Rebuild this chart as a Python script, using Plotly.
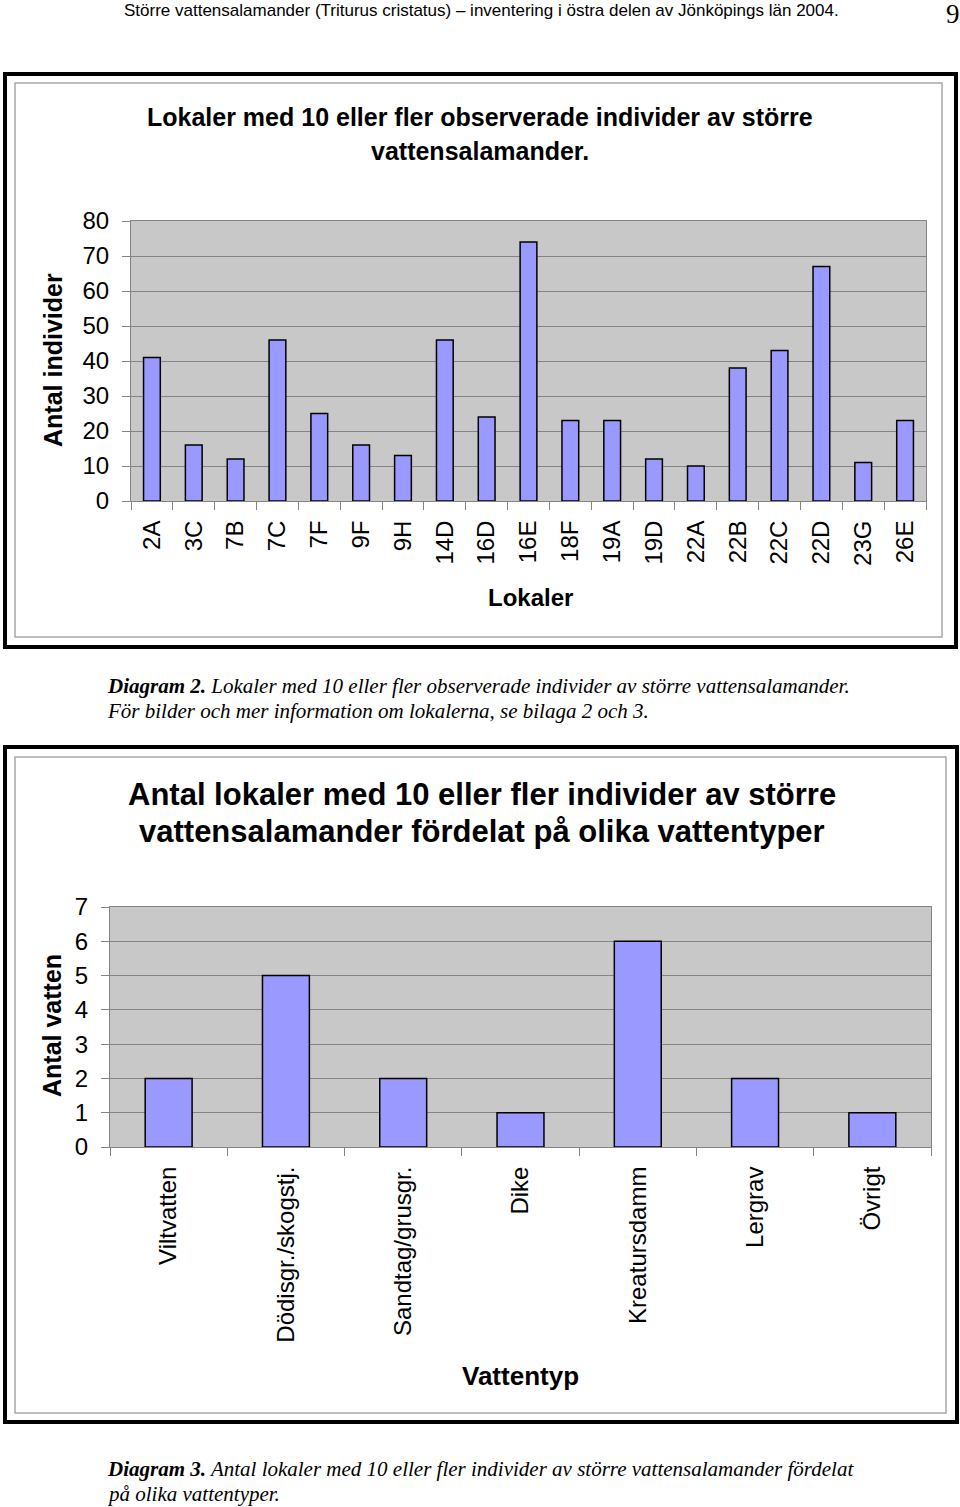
import plotly.graph_objects as go

# ---------------- data ----------------
lokaler = ["2A", "3C", "7B", "7C", "7F", "9F", "9H", "14D", "16D", "16E",
           "18F", "19A", "19D", "22A", "22B", "22C", "22D", "23G", "26E"]
antal_individer = [41, 16, 12, 46, 25, 16, 13, 46, 24, 74,
                   23, 23, 12, 10, 38, 43, 67, 11, 23]

vattentyper = ["Viltvatten", "Dödisgr./skogstj.", "Sandtag/grusgr.", "Dike",
               "Kreatursdamm", "Lergrav", "Övrigt"]
antal_vatten = [2, 5, 2, 1, 6, 2, 1]

W, H = 960, 1507
SANS = "Arial, Liberation Sans, sans-serif"
SERIF = "Times New Roman, Liberation Serif, serif"
BAR = "#9999FF"
BG = "#C8C8C8"
GRID = "#848484"


def px(x):
    return x / W


def py(y):
    return 1 - y / H


fig = go.Figure()

fig.add_trace(go.Bar(x=lokaler, y=antal_individer, xaxis="x", yaxis="y",
                     marker=dict(color=BAR, line=dict(color="black", width=1.5)),
                     showlegend=False, hoverinfo="x+y"))
fig.add_trace(go.Bar(x=vattentyper, y=antal_vatten, xaxis="x2", yaxis="y2",
                     marker=dict(color=BAR, line=dict(color="black", width=1.5)),
                     showlegend=False, hoverinfo="x+y"))

axis_common = dict(showline=True, linecolor=GRID, linewidth=1, mirror=True,
                   ticks="outside", tickcolor=GRID, ticklen=8, tickwidth=1,
                   zeroline=False, automargin=False)

fig.update_layout(
    width=W, height=H,
    autosize=False,
    margin=dict(l=0, r=0, t=0, b=0, pad=0, autoexpand=False),
    paper_bgcolor="white",
    plot_bgcolor=BG,
    bargap=0.6,
    font=dict(family=SANS, color="black"),
    xaxis=dict(domain=[px(131), px(926)], anchor="y", type="category",
               tickson="boundaries", tickangle=-90, showgrid=False,
               tickfont=dict(size=24, family=SANS), ticklabelstandoff=9,
               **axis_common),
    yaxis=dict(domain=[py(501), py(221)], anchor="x", range=[0, 80], dtick=10,
               showgrid=True, gridcolor=GRID, gridwidth=1,
               tickfont=dict(size=24, family=SANS), ticklabelstandoff=8,
               **axis_common),
    xaxis2=dict(domain=[px(110), px(931)], anchor="y2", type="category",
                tickson="boundaries", tickangle=-90, showgrid=False,
                tickfont=dict(size=24, family=SANS), ticklabelstandoff=9,
                **axis_common),
    yaxis2=dict(domain=[py(1147), py(907)], anchor="x2", range=[0, 7], dtick=1,
                showgrid=True, gridcolor=GRID, gridwidth=1,
                tickfont=dict(size=24, family=SANS), ticklabelstandoff=8,
                **axis_common),
)

shapes = []
# frames: outer black, inner gray
for (x0, y0, x1, y1), (ix0, iy0, ix1, iy1) in [
        ((5, 74, 956, 647), (15, 83, 942, 637)),
        ((5, 747, 957, 1422), (15, 757, 946, 1413))]:
    shapes.append(dict(type="rect", xref="paper", yref="paper",
                       x0=px(x0), x1=px(x1), y0=py(y1), y1=py(y0),
                       line=dict(color="black", width=4), layer="below"))
    shapes.append(dict(type="rect", xref="paper", yref="paper",
                       x0=px(ix0), x1=px(ix1), y0=py(iy1), y1=py(iy0),
                       line=dict(color="#A8A8A8", width=1.5), layer="below"))
fig.update_layout(shapes=shapes)


def ann(text, x, y, size, family=SANS, xanchor="center", angle=0, color="black"):
    fig.add_annotation(text=text, x=px(x), y=py(y), xref="paper", yref="paper",
                       xanchor=xanchor, yanchor="middle", showarrow=False,
                       textangle=angle, font=dict(size=size, family=family, color=color))


ann("Större vattensalamander (Triturus cristatus) – inventering i östra delen av Jönköpings län 2004.",
    481, 11, 17, family="Liberation Sans Narrow, Arial Narrow, " + SANS)
ann("9", 953, 14, 27, family=SERIF)

ann("<b>Lokaler med 10 eller fler observerade individer av större</b>", 480, 117, 25)
ann("<b>vattensalamander.</b>", 480, 151, 25)
ann("<b>Antal individer</b>", 53, 360, 25, angle=-90)
ann("<b>Lokaler</b>", 530, 597, 24)

ann("<b><i>Diagram 2.</i></b><i> Lokaler med 10 eller fler observerade individer av större vattensalamander.</i>",
    105, 686, 21, family=SERIF, xanchor="left")
ann("<i>För bilder och mer information om lokalerna, se bilaga 2 och 3.</i>",
    105, 711, 21, family=SERIF, xanchor="left")

ann("<b>Antal lokaler med 10 eller fler individer av större</b>", 482, 795, 31)
ann("<b>vattensalamander fördelat på olika vattentyper</b>", 482, 831, 31)
ann("<b>Antal vatten</b>", 52, 1026, 25, angle=-90)
ann("<b>Vattentyp</b>", 520, 1376, 26)

ann("<b><i>Diagram 3.</i></b><i> Antal lokaler med 10 eller fler individer av större vattensalamander fördelat</i>",
    105, 1469, 21, family=SERIF, xanchor="left")
ann("<i>på olika vattentyper.</i>", 105, 1494, 21, family=SERIF, xanchor="left")

post = (
    "var gd=document.getElementById('{plot_id}');"
    "gd.style.position='absolute';gd.style.top='0px';gd.style.left='0px';"
    "document.body.style.margin='0';document.body.style.padding='0';"
    "document.documentElement.style.height='1507px';document.body.style.height='1507px';"
    "document.documentElement.style.overflow='hidden';document.body.style.overflow='hidden';"
)

fig.write_html("out.html", config={"displayModeBar": False}, post_script=post)
